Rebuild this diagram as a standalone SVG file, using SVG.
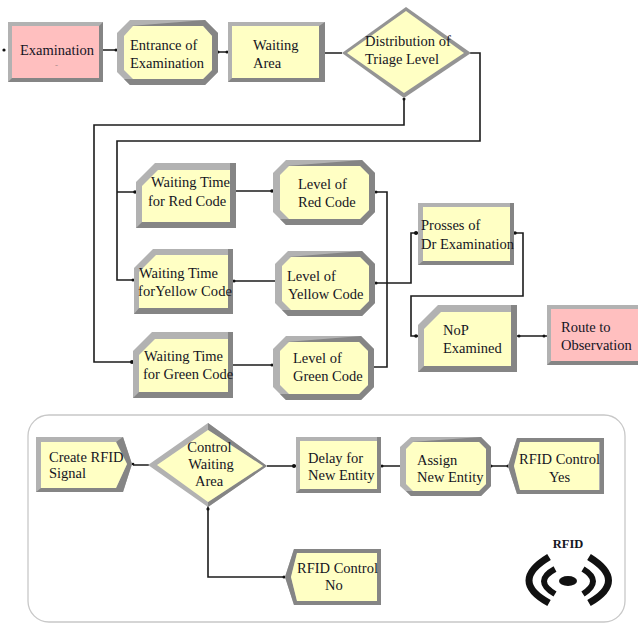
<svg xmlns="http://www.w3.org/2000/svg" width="638" height="623" viewBox="0 0 638 623">
<style>
text{font-family:"Liberation Serif","Times New Roman",serif;font-size:14.5px;fill:#15151f}
.l{fill:#b2b2b2}.d{fill:#858585}.y{fill:#ffffc4}.p{fill:#ffbfbf}
.c{fill:none;stroke:#1c1c1c;stroke-width:1.6}
.dot{fill:#111}
</style>
<rect width="638" height="623" fill="#fff"/>
<rect id="panel" x="28" y="415" width="597" height="207" rx="21" fill="#fff" stroke="#c8c8c8" stroke-width="1.3"/>
<g id="connectors">
<path class="c" d="M103 50H117M218 52H228M325 53H342"/>
<path class="c" d="M404 98V125H94V362H133"/>
<path class="c" d="M470 53H480V141H117V280H134M117 192H136"/>
<path class="c" d="M236 191H273M275 281H233M233 365H273"/>
<path class="c" d="M375 192H387V367H374M375 283H411V233H418"/>
<path class="c" d="M514 233H523V296H411V336H418M517 336H547"/>
<path class="c" d="M149 465H133M267 466H296M381 466H400M491 466H508M208 506V577H285"/>
<circle class="dot" cx="4" cy="50" r="1.6"/>
<g class="dot"><circle cx="116" cy="50" r="1.5"/><circle cx="218" cy="52" r="1.5"/><circle cx="227" cy="52" r="1.5"/>
<circle cx="404" cy="99" r="1.5"/><circle cx="132" cy="362" r="2"/><circle cx="135" cy="192" r="1.8"/><circle cx="133" cy="280" r="1.5"/>
<circle cx="272" cy="191" r="1.8"/><circle cx="234" cy="281" r="1.5"/><circle cx="272" cy="365" r="1.5"/>
<circle cx="376" cy="192" r="1.5"/><circle cx="376" cy="283" r="1.6"/><circle cx="416" cy="233" r="2"/><circle cx="515" cy="233" r="1.8"/>
<circle cx="416" cy="336" r="1.8"/><circle cx="519" cy="336" r="1.5"/><circle cx="544" cy="336" r="1.5"/>
<circle cx="133" cy="464" r="1.3"/><circle cx="294" cy="466" r="2"/><circle cx="382" cy="466" r="1.5"/><circle cx="491" cy="466" r="1.5"/><circle cx="508" cy="466" r="1.5"/><circle cx="208" cy="509" r="1.6"/><circle cx="284" cy="577" r="1.5"/></g>
</g>
<g id="examination">
<rect class="l" x="8" y="22" width="95" height="60"/><path class="d" d="M103 22V82H8L12 78H99V26Z"/><rect class="p" x="12" y="26" width="87" height="52"/>
<text x="20" y="55">Examination</text><text x="55" y="68" style="fill:#aa8888;font-size:9px">-</text>
</g>
<g id="entrance">
<path class="l" d="M130 20H205L218 33V72L205 85H130L117 72V33Z"/><path class="d" d="M205 20L218 33V72L205 85H130L124 79H203L212 70V36L203 26H130Z"/><path class="y" d="M133 26H203L212 36V70L203 79H133L124 70V36Z"/>
<text x="130" y="50">Entrance of</text><text x="130" y="68">Examination</text>
</g>
<g id="waiting-area">
<rect class="l" x="228" y="22" width="97" height="60"/><path class="d" d="M325 22V82H228L232 78H319V26Z"/><rect class="y" x="232" y="26" width="87" height="52"/>
<text x="253" y="50">Waiting</text><text x="253" y="68">Area</text>
</g>
<g id="distribution">
<path fill="#949494" d="M342 53L406 7L471 53L404 98Z"/><path class="y" d="M347 53L406 11L464 53L404 93Z"/>
<text x="365" y="46">Distribution of</text><text x="365" y="64">Triage Level</text>
</g>
<g id="wait-red">
<path class="l" d="M155 163H236V228H136V182Z"/><path class="d" d="M236 163V228H136L142 222H230V163Z"/><path class="y" d="M158 170H230V222H142V186Z"/>
<text x="151" y="187">Waiting Time</text><text x="148" y="206">for Red Code</text>
</g>
<g id="wait-yellow">
<path class="l" d="M153 249H233V314H134V268Z"/><path class="d" d="M233 249V314H134L139 308H228V249Z"/><path class="y" d="M156 255H228V308H139V272Z"/>
<text x="139" y="278">Waiting Time</text><text x="138" y="296" textLength="94">forYellow Code</text>
</g>
<g id="wait-green">
<path class="l" d="M152 332H233V398H133V351Z"/><path class="d" d="M233 332V398H133L139 392H228V332Z"/><path class="y" d="M155 339H228V392H139V355Z"/>
<text x="144" y="361">Waiting Time</text><text x="143" y="379">for Green Code</text>
</g>
<g id="level-red">
<path class="l" d="M286 160H362L375 173V212L362 225H286L273 212V173Z"/><path class="d" d="M362 160L375 173V212L362 225H286L280 219H360L369 210V175L360 166H286Z"/><path class="y" d="M289 166H360L369 175V210L360 219H289L280 210V175Z"/>
<text x="298" y="189">Level of</text><text x="298" y="207">Red Code</text>
</g>
<g id="level-yellow">
<path class="l" d="M288 251H362L375 264V303L362 316H288L275 303V264Z"/><path class="d" d="M362 251L375 264V303L362 316H288L282 310H360L369 301V266L360 257H288Z"/><path class="y" d="M291 257H360L369 266V301L360 310H291L282 301V266Z"/>
<text x="287" y="281">Level of</text><text x="288" y="299">Yellow Code</text>
</g>
<g id="level-green">
<path class="l" d="M286 336H361L374 349V387L361 400H286L273 387V349Z"/><path class="d" d="M361 336L374 349V387L361 400H286L280 394H359L368 385V351L359 342H286Z"/><path class="y" d="M289 342H359L368 351V385L359 394H289L280 385V351Z"/>
<text x="293" y="363">Level of</text><text x="293" y="381">Green Code</text>
</g>
<g id="process">
<rect class="l" x="418" y="203" width="96" height="62"/><path class="d" d="M514 203V265H418L423 261H510V203Z"/><rect class="y" x="423" y="207" width="87" height="54"/>
<text x="421" y="230">Prosses of</text><text x="421" y="249">Dr Examination</text>
</g>
<g id="nop">
<path class="l" d="M438 305H517V372H418V325Z"/><path class="d" d="M517 305V372H418L424 366H511V305Z"/><path class="y" d="M441 312H511V366H424V329Z"/>
<text x="443" y="335">NoP</text><text x="443" y="353">Examined</text>
</g>
<g id="route">
<rect class="l" x="547" y="305" width="91" height="60"/><path class="d" d="M638 361V365H547L551 361Z"/><rect class="p" x="551" y="309" width="87" height="52"/>
<text x="561" y="332">Route to</text><text x="561" y="350">Observation</text>
</g>
<g id="create-rfid">
<path class="l" d="M36 437H123L132 464L123 492H36Z"/><path class="d" d="M123 437L132 464L123 492H36L41 488H116L127 464L116 442Z"/><path class="y" d="M41 442H116L127 464L116 488H41Z"/>
<text x="49" y="462">Create RFID</text><text x="49" y="478">Signal</text>
</g>
<g id="control">
<path class="l" d="M148 465L208 423L267 466L208 507Z"/><path class="d" d="M208 423L267 466L208 507L208 502L263 466L208 430Z"/><path class="y" d="M157 465L208 430L263 466L208 502Z"/>
<text x="209.500" y="452" text-anchor="middle">Control</text><text x="211" y="469" text-anchor="middle">Waiting</text><text x="209" y="486" text-anchor="middle">Area</text>
</g>
<g id="delay">
<rect class="l" x="296" y="437" width="85" height="56"/><path class="d" d="M381 437V493H296L300 489H377V437Z"/><rect class="y" x="300" y="441" width="77" height="48"/>
<text x="308" y="463">Delay for</text><text x="308" y="480">New Entity</text>
</g>
<g id="assign">
<path class="l" d="M411 437H481L491 447V486L481 496H411L400 486V447Z"/><path class="d" d="M481 437L491 447V486L481 496H411L406 491H479L486 484V449L479 442H411Z"/><path class="y" d="M413 442H479L486 449V484L479 491H413L406 484V449Z"/>
<text x="417" y="465">Assign</text><text x="417" y="482">New Entity</text>
</g>
<g id="rfid-yes">
<path class="l" d="M517 438H604V494H517L508 466Z"/><path class="d" d="M517 438H604V494H517L520 490H600V442H520L514 466L520 490L517 494L508 466Z"/><path class="y" d="M520 442H599V490H520L514 466Z"/>
<text x="519" y="464">RFID Control</text><text x="549" y="482">Yes</text>
</g>
<g id="rfid-no">
<path class="l" d="M294 549H381V605H294L285 577Z"/><path class="d" d="M294 549H381V605H294L297 601H377V553H297L291 577L297 601L294 605L285 577Z"/><path class="y" d="M297 553H377V601H297L291 577Z"/>
<text x="297" y="573">RFID Control</text><text x="325" y="590">No</text>
</g>
<g id="rfid-icon">
<text x="568" y="548" text-anchor="middle" style="font-weight:bold;font-size:12.5px">RFID</text>
<ellipse cx="568" cy="581" rx="9" ry="5" fill="#111"/>
<path d="M549 557Q509 581 549 603M589 557Q628 581 589 603" fill="none" stroke="#111" stroke-width="7"/>
<path d="M555 569Q533 581 555 594M583 569Q603 581 583 594" fill="none" stroke="#111" stroke-width="6"/>
</g>
</svg>
